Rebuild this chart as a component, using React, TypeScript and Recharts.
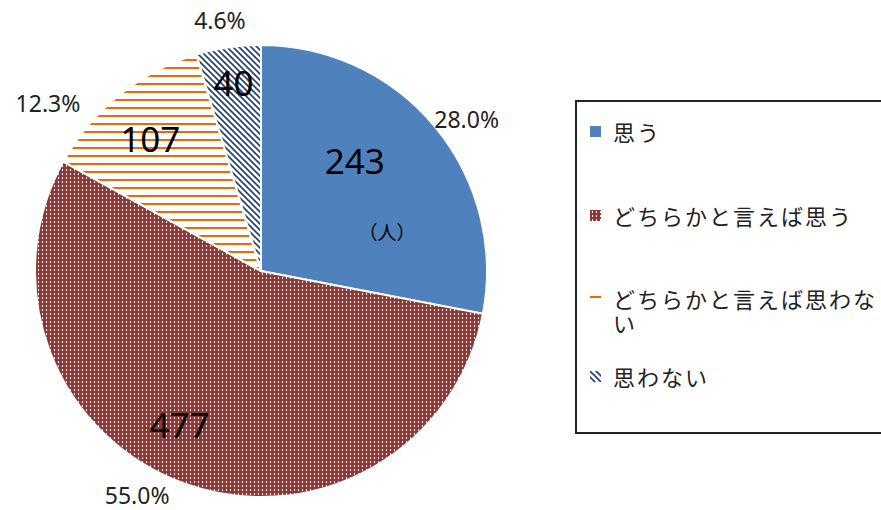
import { Cell, Pie, PieChart } from "recharts";

const categories = ["思う", "どちらかと言えば思う", "どちらかと言えば思わない", "思わない"];
const counts = [243, 477, 107, 40];
const percents = ["28.0%", "55.0%", "12.3%", "4.6%"];
const unitLabel = "（人）";

const FILLS = ["#4F81BD", "url(#pRed)", "url(#pOrange)", "url(#pNavy)"];

// label tweaks relative to each slice's mid angle (deg clockwise) and radius
const VALUE_SHIFT = [
  { da: -10, r: 0.64 },
  { da: 8, r: 0.77 },
  { da: -1, r: 0.765 },
  { da: 0, r: 0.845 },
];
const PCT_SHIFT = [
  { da: 3, r: 256 },
  { da: 9, r: 256 },
  { da: -13, r: 271 },
  { da: -1, r: 254 },
];
// top of each legend row inside the box
const LEGEND_TOPS = [17, 101, 184, 262];

const RAD = Math.PI / 180;
const NUM_FONT = "'Noto Sans', 'Open Sans', sans-serif";
const JP_FONT = "'Noto Sans CJK JP', sans-serif";

const renderLabel = (props: any) => {
  const { cx, cy, midAngle, outerRadius, index } = props;
  const mid = 90 - midAngle; // clockwise from 12 o'clock
  const v = VALUE_SHIFT[index];
  const p = PCT_SHIFT[index];
  const va = (mid + v.da) * RAD;
  const pa = (mid + p.da) * RAD;
  const vx = cx + outerRadius * v.r * Math.sin(va);
  const vy = cy - outerRadius * v.r * Math.cos(va);
  const px = cx + p.r * Math.sin(pa);
  const py = cy - p.r * Math.cos(pa);
  return (
    <g key={`lbl-${index}`}>
      <text x={vx} y={vy} textAnchor="middle" dominantBaseline="central" fontSize={35} fontFamily={NUM_FONT} fill="#000">
        {counts[index]}
      </text>
      <text x={px} y={py} textAnchor="middle" dominantBaseline="central" fontSize={23} fontFamily={NUM_FONT} fill="#222">
        {percents[index]}
      </text>
      {index === 0 && (
        <text x={cx + 126} y={cy - 40} textAnchor="middle" dominantBaseline="central" fontSize={19} fontFamily={JP_FONT} fill="#000">
          {unitLabel}
        </text>
      )}
    </g>
  );
};

const LegendIcon = ({ index }: { index: number }) => (
  <svg width={11} height={11} style={{ position: "absolute", left: 13, top: 7 }}>
    <rect width={11} height={11} fill={FILLS[index]} />
  </svg>
);

export default function App() {
  const data = categories.map((name, i) => ({ name, value: counts[i] }));
  return (
    <div style={{ position: "absolute", left: 0, top: 0, width: 881, height: 510, overflow: "hidden", background: "#fff" }}>
      <PieChart width={881} height={510} margin={{ top: 0, right: 0, bottom: 0, left: 0 }}>
        <defs>
          <pattern id="pRed" width={4} height={4} patternUnits="userSpaceOnUse">
            <rect width={4} height={4} fill="#943634" />
            <rect x={2} y={1} width={1} height={2} fill="#fff" />
          </pattern>
          <pattern id="pOrange" width={8} height={8} patternUnits="userSpaceOnUse">
            <rect width={8} height={8} fill="#fff" />
            <rect y={3} width={8} height={2} fill="#E46C0A" />
          </pattern>
          <pattern id="pNavy" width={6} height={6} patternUnits="userSpaceOnUse">
            <rect width={6} height={6} fill="#fff" />
            <path d="M-1,-1 L7,7 M-1,5 L1,7 M5,-1 L7,1" stroke="#1F3F7A" strokeWidth={1.6} />
          </pattern>
        </defs>
        <Pie
          data={data}
          dataKey="value"
          nameKey="name"
          cx={261}
          cy={271}
          outerRadius={226}
          startAngle={90}
          endAngle={-270}
          stroke="#fff"
          strokeWidth={2}
          label={renderLabel}
          labelLine={false}
          isAnimationActive={false}
        >
          {data.map((_, i) => (
            <Cell key={i} fill={FILLS[i]} />
          ))}
        </Pie>
      </PieChart>
      <div
        style={{
          position: "absolute",
          left: 575,
          top: 100,
          width: 330,
          height: 330,
          border: "2px solid #222",
          fontFamily: JP_FONT,
          fontSize: 22,
          color: "#222",
        }}
      >
        {categories.map((c, i) => (
          <div key={c} style={{ position: "absolute", left: 0, top: LEGEND_TOPS[i], width: 330 }}>
            <LegendIcon index={i} />
            <div style={{ marginLeft: 36, width: 280, lineHeight: "24px", letterSpacing: 2 }}>{c}</div>
          </div>
        ))}
      </div>
    </div>
  );
}
